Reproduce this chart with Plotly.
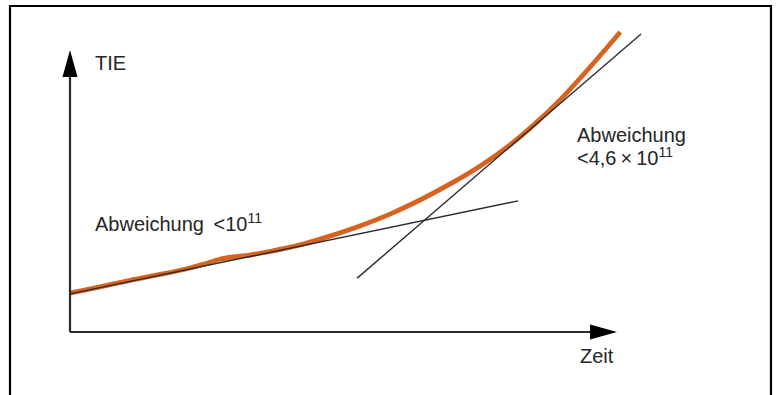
import plotly.graph_objects as go

# TIE curve (arbitrary units, axis origin at 0/0, arrow tips at 10)
zeit = [0.00, 0.55, 1.10, 1.65, 2.19, 2.47, 2.74, 3.02, 3.29, 3.66, 4.21,
        4.75, 5.30, 5.85, 6.40, 6.95, 7.50, 8.04, 8.50, 8.96, 9.51, 10.06]
tie = [1.38, 1.60, 1.83, 2.04, 2.27, 2.42, 2.58, 2.67, 2.73, 2.86, 3.09,
       3.40, 3.76, 4.18, 4.68, 5.25, 5.89, 6.63, 7.38, 8.23, 9.40, 10.64]

# the two straight reference lines
flat_x = [0.00, 8.19]
flat_y = [1.35, 4.65]
steep_x = [5.25, 10.44]
steep_y = [1.91, 10.57]

axis_end = 10.0

labels = {
    "tie": "TIE",
    "zeit": "Zeit",
    "low": "Abweichung\u2009 &lt;10<sup>11</sup>",
    "high_1": "Abweichung",
    "high_2": "&lt;4,6\u2009\u00d7\u200910<sup>11</sup>",
}

W, H = 784, 395
ox, oy = 70, 332          # pixel position of the axis origin
sx, sy = 54.7, 28.2       # pixels per unit
head_len, head_half = 27, 7.5

orange = "#d8621f"
ink = "#2b2b2b"
font = dict(family="Liberation Sans, Arial, sans-serif", size=20, color="#262626")

fig = go.Figure()

fig.add_trace(go.Scatter(x=zeit, y=tie, mode="lines",
                         line=dict(color=orange, width=4.8, shape="spline", smoothing=1.0),
                         hoverinfo="skip"))
fig.add_trace(go.Scatter(x=flat_x, y=flat_y, mode="lines",
                         line=dict(color=ink, width=1.4), hoverinfo="skip"))
fig.add_trace(go.Scatter(x=steep_x, y=steep_y, mode="lines",
                         line=dict(color=ink, width=1.4), hoverinfo="skip"))

# axes with filled arrow heads
hx = head_len / sx
hy = head_len / sy
fig.add_shape(type="line", x0=0, y0=0, x1=axis_end - hx * 0.5, y1=0,
              line=dict(color=ink, width=2.2))
fig.add_shape(type="line", x0=0, y0=0, x1=0, y1=axis_end - hy * 0.5,
              line=dict(color=ink, width=2.2))
fig.add_shape(type="path", fillcolor="black", line=dict(width=0),
              path=f"M{axis_end - hx},{-head_half / sy} L{axis_end},0 "
                   f"L{axis_end - hx},{head_half / sy} Z")
fig.add_shape(type="path", fillcolor="black", line=dict(width=0),
              path=f"M{-head_half / sx},{axis_end - hy} L0,{axis_end} "
                   f"L{head_half / sx},{axis_end - hy} Z")

# frame round the picture (bottom edge lies outside the view)
fig.add_shape(type="rect", xref="paper", yref="paper",
              x0=10 / W, x1=771 / W, y0=-0.1, y1=1 - 6 / H,
              line=dict(color="black", width=2.2))


def px_x(p):
    return (p - ox) / sx


def px_y(p):
    return (oy - p) / sy


def label(text, x, y):
    fig.add_annotation(text=text, x=px_x(x), y=px_y(y), xanchor="left", yanchor="middle",
                       showarrow=False, font=font)


label(labels["tie"], 93, 63)
label(labels["zeit"], 578, 356)
label(labels["low"], 93, 222)
label(labels["high_1"], 575, 135)
label(labels["high_2"], 575, 156)

fig.update_layout(
    width=W, height=H,
    margin=dict(l=0, r=0, t=0, b=0),
    paper_bgcolor="white", plot_bgcolor="white",
    showlegend=False,
    xaxis=dict(range=[px_x(0), px_x(W)], visible=False, fixedrange=True),
    yaxis=dict(range=[px_y(H), px_y(0)], visible=False, fixedrange=True),
)

fig.write_html("out.html", config={"displayModeBar": False},
               post_script="document.body.style.margin='0';")
